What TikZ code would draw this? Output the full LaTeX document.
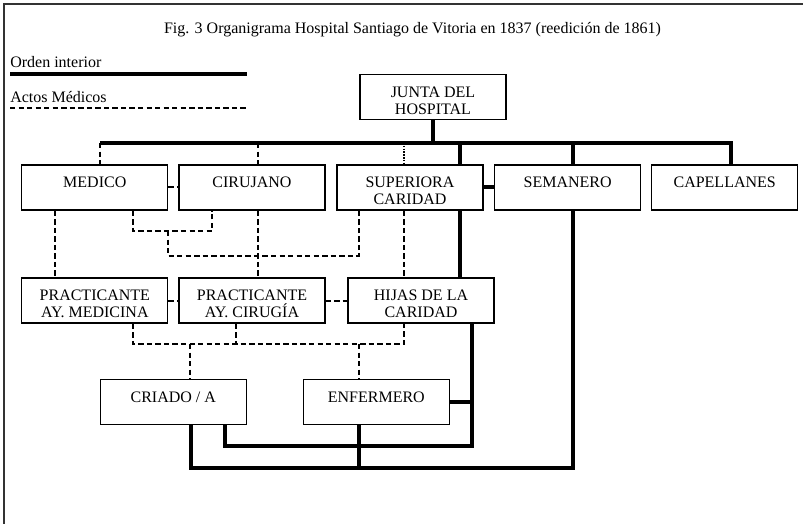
\documentclass[tikz,border=0pt]{standalone}
\usepackage{fontspec}
\setmainfont{Liberation Serif}
% two-line box text: the first baseline sits at a fixed depth below the box top
\newcommand\caja[2]{\rule{0pt}{17pt}#1\\#2\rule[-3.8pt]{0pt}{1pt}}
\begin{document}
\begin{tikzpicture}[x=0.75pt,y=-0.75pt,
  every node/.style={font=\fontsize{12pt}{13pt}\selectfont},
  box/.style={draw, line width=1pt, inner sep=0pt, minimum width=109.5pt,
    minimum height=33.8pt, align=center},
  orden/.style={line width=3pt},
  actos/.style={line width=1.5pt, dash pattern=on 4pt off 2.4pt},
  finos/.style={line width=1.1pt, dash pattern=on 1.2pt off 0.9pt},
  marco/.style={line width=1.2pt, draw=black!80}]

\useasboundingbox (0,0) rectangle (803,524);

% frame
\coordinate (fTL) at (4,4);
\coordinate (fTR) at (803,4);
\coordinate (fBL) at (4,524);
\draw[marco] (fTR) -- (fTL) -- (fBL);

% title
\node[anchor=base] (title) at (412.5,33.3)
  {Fig. 3 Organigrama Hospital Santiago de Vitoria en 1837 (reedición de 1861)};

% legend
\node[anchor=base west, inner sep=0pt] (legA) at (10,68) {Orden interior};
\coordinate (legA1) at (10,74);
\coordinate (legA2) at (247,74);
\draw[orden] (legA1) -- (legA2);
\node[anchor=base west, inner sep=0pt] (legB) at (10,103) {Actos Médicos};
\coordinate (legB1) at (10,108);
\coordinate (legB2) at (247,108);
\draw[actos] (legB1) -- (legB2);

% boxes
\node[box] (junta)      at (433,97)    {\caja{JUNTA DEL}{HOSPITAL}};
\node[box] (medico)     at (94.8,187.5) {\caja{MEDICO}{}};
\node[box] (cirujano)   at (252,187.5)  {\caja{CIRUJANO}{}};
\node[box] (superiora)  at (410,187.5)  {\caja{SUPERIORA}{CARIDAD}};
\node[box] (semanero)   at (567.7,187.5) {\caja{SEMANERO}{}};
\node[box] (capellanes) at (724.7,187.5) {\caja{CAPELLANES}{}};
\node[box] (pmed)       at (94.8,300.5) {\caja{PRACTICANTE}{AY. MEDICINA}};
\node[box] (pcir)       at (252,300.5)  {\caja{PRACTICANTE}{AY. CIRUGÍA}};
\node[box] (hijas)      at (421,300.5)  {\caja{HIJAS DE LA}{CARIDAD}};
\node[box] (criado)     at (173.3,402)  {\caja{CRIADO / A}{}};
\node[box] (enfermero)  at (376.3,402)  {\caja{ENFERMERO}{}};

% main bus
\coordinate (busL) at (100,143);
\coordinate (busR) at (731,143);

% orden interior (solid)
\draw[orden] (junta.south) -- (junta.south |- busL);
\draw[orden] (busL) -- (busR) -- (busR |- capellanes.north);
\draw[orden] (busL -| 573,0) -- (semanero.north -| 573,0);
\draw[orden] (busL -| 460,0) -- (superiora.north -| 460,0);
\draw[orden] (superiora.south -| 460,0) -- (hijas.north -| 460,0);
\draw[orden] (superiora.east) -- (semanero.west);
\draw[orden] (semanero.south -| 573,0) -- (573,468) -- (191,468) -- (criado.south -| 191,0);
\draw[orden] (enfermero.south -| 359,0) -- (359,468);
\draw[orden] (hijas.south -| 472,0) -- (472,446) -- (225,446) -- (criado.south -| 225,0);
\draw[orden] (enfermero.east) -- (enfermero.east -| 472,0);

% actos medicos (dashed)
\draw[actos] (busL) -- (medico.north -| busL);
\draw[actos] (busL -| 258,0) -- (cirujano.north -| 258,0);
\draw[finos] (busL -| 404,0) -- (superiora.north -| 404,0);
\draw[actos] (medico.east) -- (cirujano.west);
\draw[actos] (medico.south -| 55,0) -- (pmed.north -| 55,0);
\draw[actos] (medico.south -| 133,0) -- (133,231) -- (212,231) -- (cirujano.south -| 212,0);
\draw[actos] (168,231) -- (168,256) -- (359,256) -- (superiora.south -| 359,0);
\draw[actos] (cirujano.south -| 258,0) -- (pcir.north -| 258,0);
\draw[actos] (superiora.south -| 404,0) -- (hijas.north -| 404,0);
\draw[actos] (pmed.east) -- (pcir.west);
\draw[actos] (pcir.east) -- (hijas.west);
\draw[actos] (pmed.south -| 133,0) -- (133,344) -- (404,344) -- (hijas.south -| 404,0);
\draw[actos] (pcir.south -| 236,0) -- (236,344);
\draw[actos] (190,344) -- (criado.north -| 190,0);
\draw[actos] (359,344) -- (enfermero.north -| 359,0);

\end{tikzpicture}
\end{document}
